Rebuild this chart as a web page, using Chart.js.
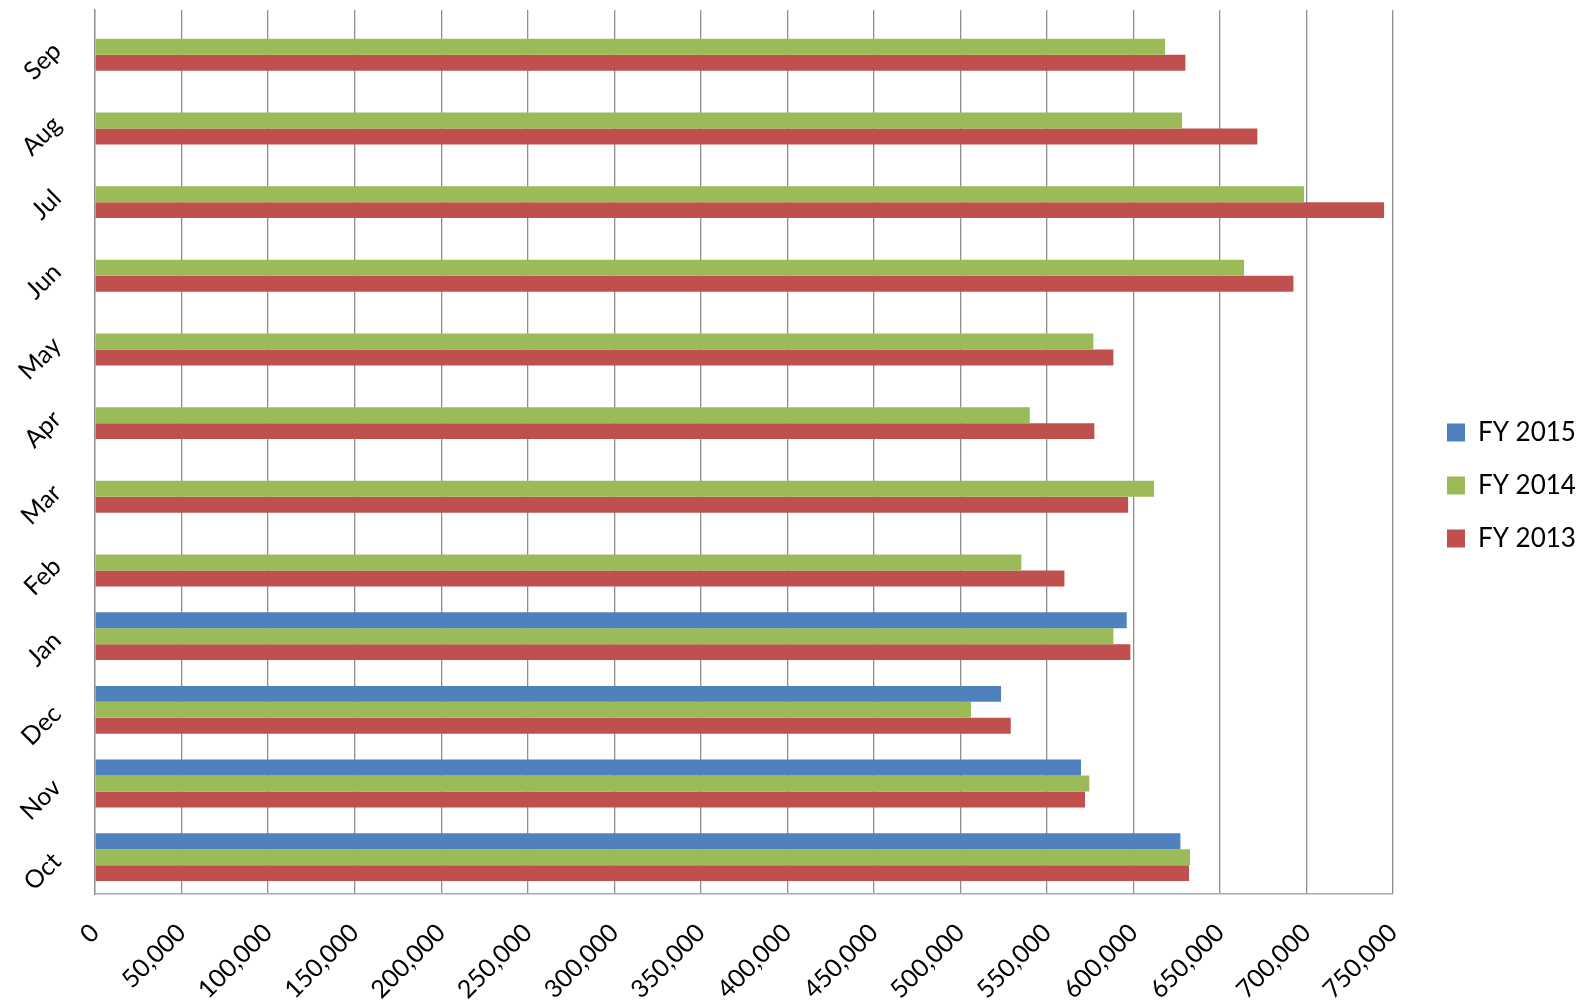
<!DOCTYPE html>
<html>
<head>
<meta charset="utf-8">
<script src="https://cdn.jsdelivr.net/npm/chart.js@4.4.1/dist/chart.umd.min.js"></script>
<style>
    html, body { margin: 0; padding: 0; background: #fff; }
    #wrap { width: 1590px; height: 1007px; }
</style>
</head>
<body>
<div id="wrap"><canvas id="fyChart"></canvas></div>
<script>
// Months in fiscal order (Oct first)
const months = ['Oct', 'Nov', 'Dec', 'Jan', 'Feb', 'Mar', 'Apr', 'May', 'Jun', 'Jul', 'Aug', 'Sep'];
const fy2015 = [627100, 569700, 523500, 596100, null, null, null, null, null, null, null, null];
const fy2014 = [632700, 574500, 506100, 588400, 535200, 611900, 540100, 576800, 663900, 698600, 628100, 618200];
const fy2013 = [632100, 572000, 529100, 598200, 560100, 596900, 577400, 588400, 692400, 744800, 671600, 630000];
const xTicks = [0, 50000, 100000, 150000, 200000, 250000, 300000, 350000, 400000, 450000, 500000, 550000, 600000, 650000, 700000, 750000];

// chart draws the first label at the top, the reference has Oct at the bottom
const rev = arr => arr.slice().reverse();

const fontFamily = 'Lato, "Open Sans", sans-serif';

// move the legend to where it sits in the reference
const legendShift = {
    id: 'legendShift',
    afterLayout(chart) {
        const lg = chart.legend;
        if (!lg) return;
        const w = lg.right - lg.left;
        const h = lg.bottom - lg.top;
        lg.left = 1420;
        lg.right = lg.left + w;
        lg.top = lg.top - 23;
        lg.bottom = lg.top + h;
    }
};

new Chart(document.getElementById('fyChart').getContext('2d'), {
    type: 'bar',
    data: {
        labels: rev(months),
        datasets: [
            { label: 'FY 2015', data: rev(fy2015), backgroundColor: '#4F81BD' },
            { label: 'FY 2014', data: rev(fy2014), backgroundColor: '#9BBB59' },
            { label: 'FY 2013', data: rev(fy2013), backgroundColor: '#C0504D' }
        ]
    },
    options: {
        indexAxis: 'y',
        responsive: true,
        maintainAspectRatio: false,
        animation: false,
        layout: { padding: { top: 10, bottom: 0, left: 0, right: 31 } },
        datasets: {
            bar: { barPercentage: 1, categoryPercentage: 0.65, borderWidth: 0 }
        },
        plugins: {
            tooltip: { enabled: false },
            legend: {
                position: 'right',
                labels: {
                    boxWidth: 18,
                    boxHeight: 18,
                    padding: 27,
                    color: '#000',
                    font: { family: fontFamily, size: 26 }
                }
            }
        },
        scales: {
            x: {
                min: 0,
                max: 750000,
                afterBuildTicks: scale => { scale.ticks = xTicks.map(v => ({ value: v })); },
                afterFit: scale => {
                    scale.height = 113;
                    scale.paddingLeft = 0;
                    scale.paddingRight = 0;
                },
                grid: { color: '#8e8e8e', lineWidth: 1.3, drawTicks: false },
                border: { display: true, color: '#a8a8a8', width: 1.5 },
                ticks: {
                    autoSkip: false,
                    minRotation: 45,
                    maxRotation: 45,
                    padding: 24,
                    color: '#000',
                    font: { family: fontFamily, size: 25 },
                    callback: v => v.toLocaleString('en-US')
                }
            },
            y: {
                afterFit: scale => {
                    scale.width = 95;
                    scale.paddingTop = 0;
                    scale.paddingBottom = 0;
                },
                grid: { display: false, drawTicks: false },
                border: { display: true, color: '#8e8e8e', width: 1.3 },
                ticks: {
                    minRotation: 45,
                    maxRotation: 45,
                    padding: 38,
                    color: '#000',
                    font: { family: fontFamily, size: 25 }
                }
            }
        }
    },
    plugins: [legendShift]
});
</script>
</body>
</html>
